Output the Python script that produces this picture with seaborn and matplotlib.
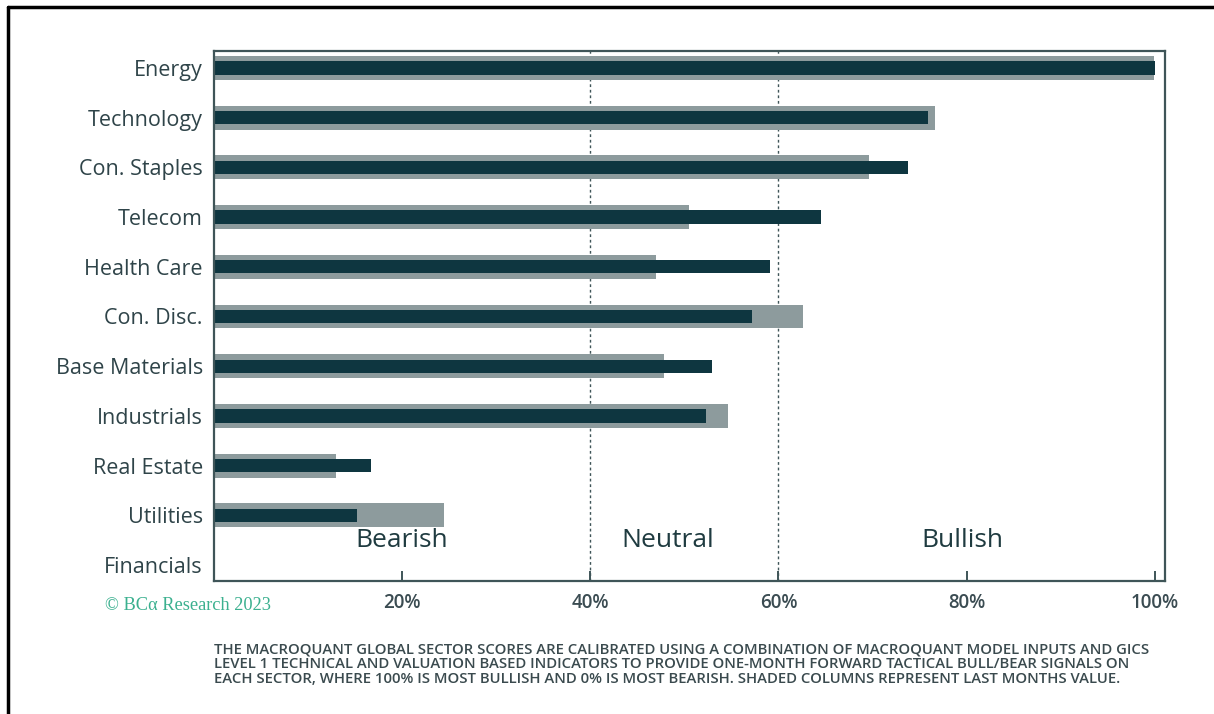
import matplotlib
matplotlib.use("Agg")
import matplotlib.pyplot as plt
import seaborn as sns
import pandas as pd
from matplotlib.lines import Line2D

sectors = ["Energy", "Technology", "Con. Staples", "Telecom", "Health Care",
           "Con. Disc.", "Base Materials", "Industrials", "Real Estate",
           "Utilities", "Financials"]
current = [100.0, 75.9, 73.8, 64.5, 59.1, 57.2, 52.9, 52.3, 16.7, 15.2, 0.0]
last_month = [99.9, 76.7, 69.6, 50.5, 47.0, 62.6, 47.8, 54.6, 13.0, 24.4, 0.0]
xticks = [20, 40, 60, 80, 100]
xtick_labels = ["20%", "40%", "60%", "80%", "100%"]
zones = ["Bearish", "Neutral", "Bullish"]
zone_x = [20.0, 48.2, 79.6]
footnote = ("THE MACROQUANT GLOBAL SECTOR SCORES ARE CALIBRATED USING A COMBINATION OF MACROQUANT MODEL INPUTS AND GICS\n"
            "LEVEL 1 TECHNICAL AND VALUATION BASED INDICATORS TO PROVIDE ONE-MONTH FORWARD TACTICAL BULL/BEAR SIGNALS ON\n"
            "EACH SECTOR, WHERE 100% IS MOST BULLISH AND 0% IS MOST BEARISH. SHADED COLUMNS REPRESENT LAST MONTHS VALUE.")

df = pd.DataFrame({"sector": sectors, "current": current, "last": last_month})

sns.set_theme(style="white")
plt.rcParams["font.family"] = ["Open Sans", "DejaVu Sans"]

DARK = "#0e3640"
GRAY = "#8d9b9d"
SPINE = "#3f5558"
TEXT = "#2f4449"

fig = plt.figure(figsize=(12.14, 7.14), dpi=100)
ax = fig.add_axes([214 / 1214, 1 - 581 / 714, (1165 - 214) / 1214, (581 - 51) / 714])

sns.barplot(data=df, y="sector", x="last", order=sectors, color=GRAY,
            width=0.48, orient="h", ax=ax, saturation=1, errorbar=None,
            edgecolor="none", linewidth=0)
sns.barplot(data=df, y="sector", x="current", order=sectors, color=DARK,
            width=0.27, orient="h", ax=ax, saturation=1, errorbar=None,
            edgecolor="none", linewidth=0)

ax.set_xlim(0, 101.1)
ax.set_ylim(10.32, -0.34)
ax.set_xlabel("")
ax.set_ylabel("")

for xv in [40, 60]:
    ax.axvline(xv, color=SPINE, lw=1.0, ls=(0, (2, 2)), zorder=0.5)

for s in ax.spines.values():
    s.set_visible(True)
    s.set_color(SPINE)
    s.set_linewidth(1.6)

ax.set_xticks(xticks)
ax.set_xticklabels(xtick_labels, fontsize=13.5, fontweight="semibold", color="#3b4c52")
ax.tick_params(axis="x", direction="in", length=7, width=1.4, color=SPINE, pad=9, bottom=True)
ax.tick_params(axis="y", length=0, pad=8, labelsize=15.5, labelcolor=TEXT)
for lab in ax.get_yticklabels():
    lab.set_fontweight("medium")

for z, zx in zip(zones, zone_x):
    ax.text(zx, 9.5, z, ha="center", va="center", fontsize=19, color="#1f3b40")

fig.text(105 / 1214, 1 - 606 / 714, "© BCα Research 2023", ha="left", va="center",
         fontsize=13.2, color="#3bb08f", family=["Liberation Serif", "DejaVu Serif"])

fig.text(214 / 1214, 1 - 664 / 714, footnote, ha="left", va="center",
         fontsize=10.7, color="#3a4a4e", linespacing=1.05, fontweight="semibold",
         family=["Open Sans", "DejaVu Sans"])

# outer frame (top and left)
fig.add_artist(Line2D([8 / 1214, 1.0], [1 - 7 / 714, 1 - 7 / 714], color="black", lw=2.5,
                      transform=fig.transFigure))
fig.add_artist(Line2D([8 / 1214, 8 / 1214], [0.0, 1 - 7 / 714], color="black", lw=2.5,
                      transform=fig.transFigure))

fig.savefig("out.png", dpi=100, facecolor="white")
